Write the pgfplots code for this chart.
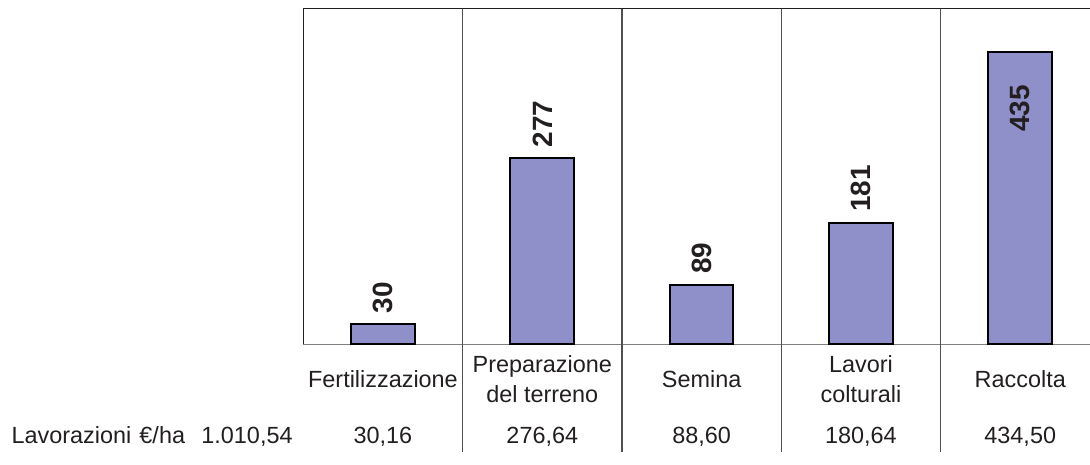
\documentclass[border=0pt]{standalone}
\usepackage{fontspec}
\setmainfont{Liberation Sans}
\usepackage{pgfplots}
\pgfplotsset{compat=1.18}
\definecolor{barfill}{RGB}{143,143,201}
\definecolor{txt}{RGB}{35,31,32}
\definecolor{sep}{RGB}{80,80,80}
\begin{document}
\begin{tikzpicture}[x=1bp,y=1bp]
\path[use as bounding box] (0,0) rectangle (545,232);
\begin{axis}[
  at={(151.65bp,59.85bp)}, anchor=south west,
  scale only axis, width=393.35bp, height=168bp,
  xmin=-0.5, xmax=4.438, ymin=0, ymax=500,
  axis line style={draw=none},
  ytick=\empty,
  xtick={0,1,2,3,4},
  xticklabels={Fertilizzazione, {Preparazione\\del terreno}, Semina, {Lavori\\colturali}, Raccolta},
  major tick length=0pt,
  xticklabel style={align=center, anchor=center, yshift=-17.25bp, font=\fontsize{11.75}{15}\selectfont, text=txt, inner sep=0pt},
  extra x ticks={0,1,2,3,4},
  extra x tick labels={{30,16},{276,64},{88,60},{180,64},{434,50}},
  extra x tick style={xticklabel style={anchor=base, yshift=-32.1bp}},
  clip=false,
]
\draw[line width=0.6bp, gray] (rel axis cs:0,0) -- (rel axis cs:1,0);
\pgfplotsinvokeforeach{0.5,1.5,2.5,3.5}{
  \draw[line width=0.6bp, sep] (axis cs:#1,500) -- ([yshift=-53.85bp]axis cs:#1,0);
}
\addplot[ybar, bar width=0.4, bar shift=0pt, fill=barfill, draw=black, line width=1bp,
  point meta=explicit symbolic,
  nodes near coords,
  nodes near coords style={rotate=90, anchor=west, inner sep=0pt, inner xsep=5bp, font=\fontsize{14}{16}\selectfont\bfseries, text=txt}]
  coordinates {(0,30.16)[30] (1,276.64)[277] (2,88.60)[89] (3,180.64)[181]};
\addplot[ybar, bar width=0.4, bar shift=0pt, fill=barfill, draw=black, line width=1bp,
  point meta=explicit symbolic,
  nodes near coords,
  nodes near coords style={rotate=90, anchor=east, inner sep=0pt, inner xsep=16bp, font=\fontsize{14}{16}\selectfont\bfseries, text=txt}]
  coordinates {(4,434.50)[435]};
\draw[line width=0.6bp, txt] (rel axis cs:0,0) -- (rel axis cs:0,1) -- (rel axis cs:1,1);
\end{axis}
\node[anchor=base east, inner sep=0pt, font=\fontsize{11.75}{15}\selectfont, text=txt] at (146.5,10.5) {Lavorazioni\hspace{0.35em}€/ha\hspace{0.7em}1.010,54};
\end{tikzpicture}
\end{document}
